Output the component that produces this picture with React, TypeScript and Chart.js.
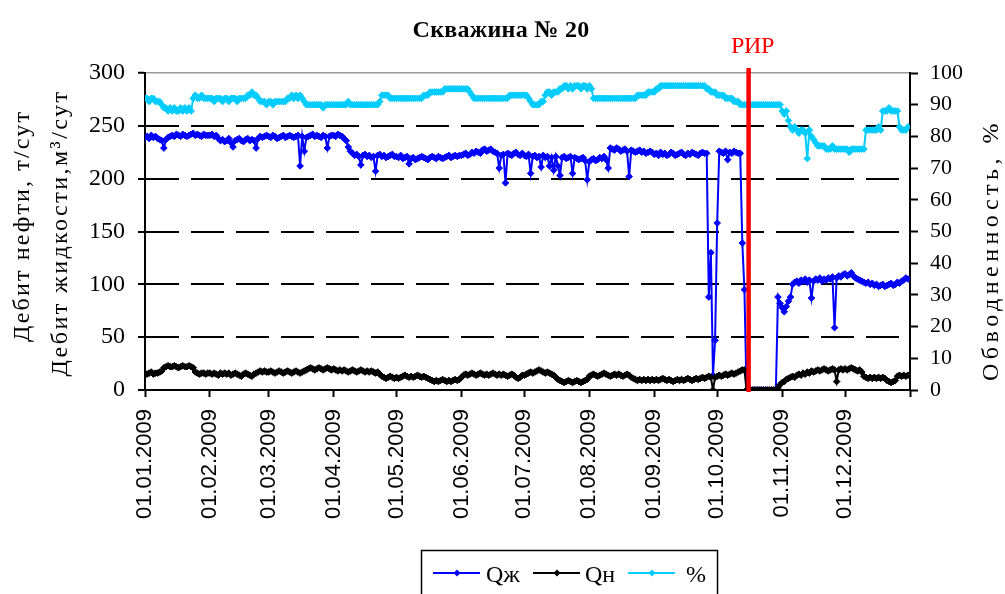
import React, { useEffect, useRef } from 'react';
import { Chart, registerables } from 'chart.js';

Chart.register(...registerables);

const TITLE = 'Скважина № 20';
const Y_LEFT_TITLE_OUTER = 'Дебит нефти, т/сут';
const Y_LEFT_TITLE_INNER = 'Дебит жидкости,м³/сут';
const Y_RIGHT_TITLE = 'Обводненность, %';
const RIR_LABEL = 'РИР';
const RIR_DAY = 288; // 16.10.2009
const SERIES_NAMES = ['Qж', 'Qн', '%'];

const MONTH_START_DAYS = [0, 31, 59, 90, 120, 151, 181, 212, 243, 273, 304, 334, 365];
const MONTH_LABELS = [
  '01.01.2009', '01.02.2009', '01.03.2009', '01.04.2009', '01.05.2009', '01.06.2009',
  '01.07.2009', '01.08.2009', '01.09.2009', '01.10.2009', '01.11.2009', '01.12.2009', '',
];

// Дебит жидкости, м3/сут (daily, 2009)
const Q_LIQUID = [
  // Jan
  239, 240, 238, 241, 239, 240, 238, 237, 236, 229, 237, 239, 240, 241, 240, 242, 241, 240, 242, 241, 240, 241, 242, 243, 241, 242, 241, 240, 242, 241, 241,
  // Feb
  241, 242, 240, 241, 238, 236, 237, 235, 236, 238, 234, 230, 236, 237, 238, 236, 235, 237, 238, 236, 237, 236, 229, 238, 240, 239, 240, 241,
  // Mar
  240, 239, 241, 240, 238, 239, 240, 241, 239, 240, 241, 240, 239, 240, 241, 212, 240, 226, 239, 240, 241, 242, 240, 241, 240, 239, 241, 240, 229, 240, 241,
  // Apr
  241, 240, 242, 241, 240, 238, 236, 230, 226, 224, 222, 223, 221, 213, 222, 223, 221, 222, 220, 221, 207, 222, 223, 221, 222, 220, 221, 222, 223, 221,
  // May
  221, 220, 222, 219, 220, 221, 214, 219, 220, 218, 219, 220, 221, 220, 219, 218, 220, 221, 220, 219, 221, 220, 219, 220, 221, 222, 220, 221, 222, 221, 222,
  // Jun
  222, 223, 224, 222, 223, 225, 224, 226, 225, 224, 227, 228, 226, 227, 228, 226, 225, 224, 210, 222, 223, 196, 224, 223, 222, 224, 225, 223, 222, 224,
  // Jul
  222, 221, 223, 205, 221, 222, 220, 221, 211, 222, 220, 221, 212, 220, 208, 221, 212, 203, 220, 221, 219, 220, 221, 205, 220, 219, 218, 219, 220, 217, 199,
  // Aug
  216, 218, 219, 217, 218, 220, 219, 221, 218, 210, 229, 228, 227, 229, 228, 226, 227, 228, 226, 202, 227, 226, 225, 226, 227, 225, 226, 224, 225, 226, 225,
  // Sep
  223, 224, 222, 225, 223, 224, 222, 223, 225, 224, 222, 223, 224, 225, 223, 222, 224, 223, 225, 224, 223, 222, 224, 225, 224, 224, 88, 130, 14, 47,
  // Oct
  158, 226, 225, 224, 226, 218, 225, 224, 226, 225, 224, 224, 139, 95, 0, 0, 0, 0, 0, 0, 0, 0, 0, 0, 0, 0, 0, 0, 0, 88, 82,
  // Nov
  78, 74, 79, 84, 88, 100, 102, 103, 101, 104, 103, 105, 102, 104, 87, 103, 105, 104, 106, 103, 105, 104, 106, 105, 107, 59, 106, 108, 107, 109,
  // Dec
  110, 108, 109, 111, 108, 106, 105, 104, 103, 102, 101, 102, 100, 101, 99, 100, 98, 99, 100, 98, 99, 100, 101, 99, 100, 102, 101, 103, 104, 106, 105,
];

// Дебит нефти, т/сут
const Q_OIL = [
  // Jan
  16, 15, 16, 17, 15, 16, 16, 17, 18, 21, 22, 23, 22, 22, 23, 22, 21, 22, 23, 22, 22, 23, 22, 21, 17, 16, 15, 16, 16, 15, 16,
  // Feb
  16, 15, 16, 15, 14, 16, 15, 16, 15, 16, 14, 15, 16, 15, 14, 13, 15, 16, 15, 14, 13, 15, 16, 17, 18, 17, 18, 17,
  // Mar
  17, 18, 17, 16, 17, 18, 17, 16, 17, 18, 17, 16, 17, 18, 17, 16, 17, 18, 19, 20, 21, 20, 19, 20, 21, 20, 19, 20, 21, 20, 19,
  // Apr
  20, 19, 18, 19, 18, 19, 18, 17, 18, 19, 18, 17, 18, 19, 18, 17, 18, 17, 18, 17, 16, 17, 15, 13, 12, 11, 12, 13, 12, 11,
  // May
  12, 11, 12, 13, 14, 13, 12, 13, 12, 13, 14, 13, 12, 13, 12, 11, 10, 9, 8, 9, 8, 9, 10, 9, 8, 9, 8, 9, 10, 9, 10,
  // Jun
  12, 14, 15, 14, 15, 16, 15, 14, 15, 16, 15, 14, 15, 14, 15, 16, 15, 14, 15, 14, 15, 14, 13, 14, 15, 14, 12, 11, 12, 14,
  // Jul
  14, 15, 16, 17, 16, 17, 18, 19, 18, 17, 16, 17, 16, 15, 14, 12, 10, 9, 8, 7, 8, 9, 8, 7, 8, 9, 8, 7, 8, 9, 10,
  // Aug
  13, 14, 15, 14, 13, 14, 15, 16, 15, 14, 13, 14, 15, 14, 15, 14, 13, 14, 15, 14, 12, 11, 10, 9, 10, 9, 10, 9, 10, 9, 10,
  // Sep
  9, 10, 9, 10, 11, 10, 9, 10, 9, 8, 9, 10, 9, 10, 9, 10, 11, 10, 9, 10, 11, 10, 11, 12, 11, 12, 13, 12, 0, 12,
  // Oct
  13, 14, 13, 14, 15, 14, 15, 16, 15, 16, 17, 18, 19, 19, 0, 0, 0, 0, 0, 0, 0, 0, 0, 0, 0, 0, 0, 0, 0, 2, 5,
  // Nov
  7, 8, 10, 11, 12, 13, 12, 14, 15, 14, 16, 15, 17, 16, 18, 17, 18, 19, 18, 19, 20, 19, 18, 19, 20, 19, 8, 19, 20, 19,
  // Dec
  20, 19, 20, 21, 20, 19, 18, 19, 17, 13, 12, 11, 12, 11, 12, 11, 12, 11, 12, 11, 9, 8, 7, 8, 9, 13, 14, 13, 14, 13, 14,
];

// Обводненность, %
const WATER_CUT = [
  // Jan
  92, 92, 91, 92, 92, 91, 91, 91, 90, 89, 89, 88, 89, 88, 89, 88, 88, 89, 88, 89, 88, 89, 88, 92, 93, 92, 92, 93, 92, 92, 92,
  // Feb
  92, 92, 91, 92, 92, 92, 91, 92, 92, 91, 92, 92, 92, 91, 92, 92, 92, 92, 93, 93, 94, 93, 93, 92, 91, 91, 91, 90,
  // Mar
  91, 91, 90, 91, 91, 91, 91, 91, 91, 92, 92, 93, 92, 93, 92, 93, 92, 91, 90, 90, 90, 90, 90, 90, 90, 90, 89, 90, 90, 90, 90,
  // Apr
  90, 90, 90, 90, 90, 90, 90, 91, 90, 90, 90, 90, 90, 90, 90, 90, 90, 90, 90, 90, 90, 90, 91, 93, 93, 93, 93, 92, 92, 92,
  // May
  92, 92, 92, 92, 92, 92, 92, 92, 92, 92, 92, 92, 92, 93, 93, 93, 94, 94, 94, 94, 94, 94, 94, 95, 95, 95, 95, 95, 95, 95, 95,
  // Jun
  95, 95, 95, 95, 94, 93, 92, 92, 92, 92, 92, 92, 92, 92, 92, 92, 92, 92, 92, 92, 92, 92, 92, 93, 93, 93, 93, 93, 93, 93,
  // Jul
  93, 93, 92, 91, 90, 90, 90, 90, 91, 91, 93, 94, 94, 93, 94, 94, 94, 95, 95, 96, 96, 95, 96, 95, 96, 96, 96, 95, 96, 96, 95,
  // Aug
  96, 95, 92, 92, 92, 92, 92, 92, 92, 92, 92, 92, 92, 92, 92, 92, 92, 92, 92, 92, 92, 92, 92, 93, 93, 93, 93, 93, 94, 94, 94,
  // Sep
  94, 95, 95, 96, 96, 96, 96, 96, 96, 96, 96, 96, 96, 96, 96, 96, 96, 96, 96, 96, 96, 96, 96, 96, 96, 95, 95, 94, 94, 94,
  // Oct
  93, 93, 93, 93, 92, 92, 92, 92, 91, 91, 91, 90, 90, 90, 90, 90, 90, 90, 90, 90, 90, 90, 90, 90, 90, 90, 90, 90, 90, 90, 90,
  // Nov
  88, 87, 88, 85, 83, 82, 83, 82, 81, 82, 82, 81, 73, 82, 80, 79, 78, 77, 77, 77, 77, 76, 76, 76, 77, 76, 76, 76, 76, 76,
  // Dec
  76, 76, 75, 76, 76, 76, 76, 76, 76, 76, 82, 82, 82, 82, 82, 82, 83, 82, 88, 88, 88, 89, 88, 88, 88, 88, 83, 82, 82, 82, 83,
];

const COLORS = ['#0000FF', '#000000', '#00CCFF'];
const SERIF = "'Liberation Serif', 'Times New Roman', serif";
const SANS = "'Liberation Sans', Arial, sans-serif";

function drawText(
  ctx: CanvasRenderingContext2D,
  text: string,
  x: number,
  y: number,
  font: string,
  color: string,
  rotation: number,
  targetWidth?: number,
  baseline: CanvasTextBaseline = 'middle'
) {
  ctx.save();
  ctx.font = font;
  ctx.fillStyle = color;
  const n = Array.from(text).length;
  if (targetWidth && 'letterSpacing' in ctx && n > 1) {
    const w0 = ctx.measureText(text).width;
    (ctx as any).letterSpacing = ((targetWidth - w0) / n).toFixed(2) + 'px';
  }
  ctx.translate(x, y);
  if (rotation) ctx.rotate(rotation);
  ctx.textAlign = 'center';
  ctx.textBaseline = baseline;
  ctx.fillText(text, 0, 0);
  ctx.restore();
}

function drawDiamond(ctx: CanvasRenderingContext2D, x: number, y: number, r: number, color: string) {
  ctx.beginPath();
  ctx.moveTo(x, y - r);
  ctx.lineTo(x + r, y);
  ctx.lineTo(x, y + r);
  ctx.lineTo(x - r, y);
  ctx.closePath();
  ctx.fillStyle = color;
  ctx.fill();
}

export default function App() {
  const ref = useRef<HTMLCanvasElement>(null);

  useEffect(() => {
    document.body.style.margin = '0';
    const canvas = ref.current;
    if (!canvas) return;

    const overlay = {
      id: 'overlay',
      afterDatasetsDraw(chart: any) {
        const ctx: CanvasRenderingContext2D = chart.ctx;
        const xs = chart.scales.x;
        const xp = xs.getPixelForValue(RIR_DAY);
        ctx.save();
        ctx.strokeStyle = '#FF0000';
        ctx.lineWidth = 4.5;
        ctx.beginPath();
        ctx.moveTo(xp, chart.chartArea.top - 5);
        ctx.lineTo(xp, chart.chartArea.bottom + 2);
        ctx.stroke();
        ctx.restore();
        drawText(ctx, RIR_LABEL, xp + 4, 53, `24px ${SERIF}`, '#FF0000', 0, 43, 'alphabetic');
      },
      afterDraw(chart: any) {
        const ctx: CanvasRenderingContext2D = chart.ctx;
        // title
        drawText(ctx, TITLE, 501, 37, `bold 24px ${SERIF}`, '#000', 0, 177, 'alphabetic');
        // axis titles
        drawText(ctx, Y_LEFT_TITLE_OUTER, 23, 226, `24px ${SERIF}`, '#000', -Math.PI / 2, 232);
        drawText(ctx, Y_LEFT_TITLE_INNER, 61, 233, `24px ${SERIF}`, '#000', -Math.PI / 2, 287);
        drawText(ctx, Y_RIGHT_TITLE, 992, 250, `24px ${SERIF}`, '#000', -Math.PI / 2, 262);

        // legend
        ctx.save();
        ctx.strokeStyle = '#000';
        ctx.lineWidth = 1.5;
        ctx.strokeRect(421.5, 550.5, 296, 60);
        const starts = [433, 533, 628];
        const textX = [486, 585, 686];
        for (let i = 0; i < SERIES_NAMES.length; i++) {
          const x0 = starts[i];
          ctx.strokeStyle = COLORS[i];
          ctx.lineWidth = 2;
          ctx.beginPath();
          ctx.moveTo(x0, 573);
          ctx.lineTo(x0 + 47, 573);
          ctx.stroke();
          drawDiamond(ctx, x0 + 24, 573, 3.5, COLORS[i]);
          ctx.font = `24px ${SERIF}`;
          ctx.fillStyle = '#000';
          ctx.textAlign = 'left';
          ctx.textBaseline = 'alphabetic';
          ctx.fillText(SERIES_NAMES[i], textX[i], 582);
        }
        ctx.restore();
      },
    };

    const mk = (arr: number[]) => arr.map((v, i) => ({ x: i, y: v }));
    const pointStyleOpts = (color: string) => ({
      borderColor: color,
      backgroundColor: color,
      pointBackgroundColor: color,
      pointBorderColor: color,
      pointStyle: 'rectRot' as const,
      pointRadius: 3.3,
      pointBorderWidth: 1,
      borderWidth: 2,
      tension: 0,
      fill: false,
    });

    const chart = new Chart(canvas, {
      type: 'line',
      data: {
        datasets: [
          { label: SERIES_NAMES[0], data: mk(Q_LIQUID), yAxisID: 'y', order: 2, ...pointStyleOpts(COLORS[0]) },
          { label: SERIES_NAMES[1], data: mk(Q_OIL), yAxisID: 'y', order: 1, ...pointStyleOpts(COLORS[1]) },
          { label: SERIES_NAMES[2], data: mk(WATER_CUT), yAxisID: 'y1', order: 0, ...pointStyleOpts(COLORS[2]) },
        ],
      },
      options: {
        responsive: false,
        animation: false,
        events: [],
        devicePixelRatio: 1,
        layout: { padding: { top: 73, left: 0, right: 0, bottom: 0 } },
        plugins: {
          legend: { display: false },
          title: { display: false },
          tooltip: { enabled: false },
        },
        scales: {
          x: {
            type: 'linear',
            position: 'bottom',
            min: 0,
            max: 365,
            afterBuildTicks: (s: any) => {
              s.ticks = MONTH_START_DAYS.map((v) => ({ value: v }));
            },
            afterFit: (s: any) => {
              s.height = 204;
            },
            ticks: {
              autoSkip: false,
              minRotation: 90,
              maxRotation: 90,
              padding: 12,
              color: '#000',
              font: { family: SANS, size: 22 },
              callback: (_v: any, i: number) => MONTH_LABELS[i] ?? '',
            },
            grid: {
              drawOnChartArea: false,
              drawTicks: true,
              tickLength: 7,
              tickWidth: 2,
              tickColor: '#000',
              color: '#000',
            },
            border: { display: true, color: '#000', width: 2 },
          },
          y: {
            type: 'linear',
            position: 'left',
            min: 0,
            max: 300,
            afterFit: (s: any) => {
              s.width = 145;
            },
            ticks: {
              stepSize: 50,
              padding: 13,
              color: '#000',
              font: { family: SERIF, size: 24 },
            },
            grid: {
              color: (c: any) => (c.tick && c.tick.value === 300 ? '#9A9A9A' : '#000'),
              lineWidth: (c: any) => (c.tick && c.tick.value === 300 ? 1.5 : 2),
              drawTicks: true,
              tickLength: 7,
              tickWidth: 2,
              tickColor: '#000',
            },
            border: {
              display: true,
              color: '#000',
              width: 2,
              dash: (c: any) => (c.tick && c.tick.value > 0 && c.tick.value < 300 ? [33, 12] : []),
            },
          },
          y1: {
            type: 'linear',
            position: 'right',
            min: 0,
            max: 100,
            afterFit: (s: any) => {
              s.width = 95;
            },
            ticks: {
              stepSize: 10,
              padding: 12,
              color: '#000',
              font: { family: SERIF, size: 22 },
            },
            grid: {
              drawOnChartArea: false,
              drawTicks: true,
              tickLength: 8,
              tickWidth: 2,
              tickColor: '#000',
              color: '#000',
            },
            border: { display: true, color: '#000', width: 2 },
          },
        },
      } as any,
      plugins: [overlay],
    });

    return () => chart.destroy();
  }, []);

  return (
    <div style={{ position: 'absolute', left: 0, top: 0, width: 1005, height: 594, background: '#fff' }}>
      <canvas ref={ref} width={1005} height={594} style={{ display: 'block', width: 1005, height: 594 }} />
    </div>
  );
}
